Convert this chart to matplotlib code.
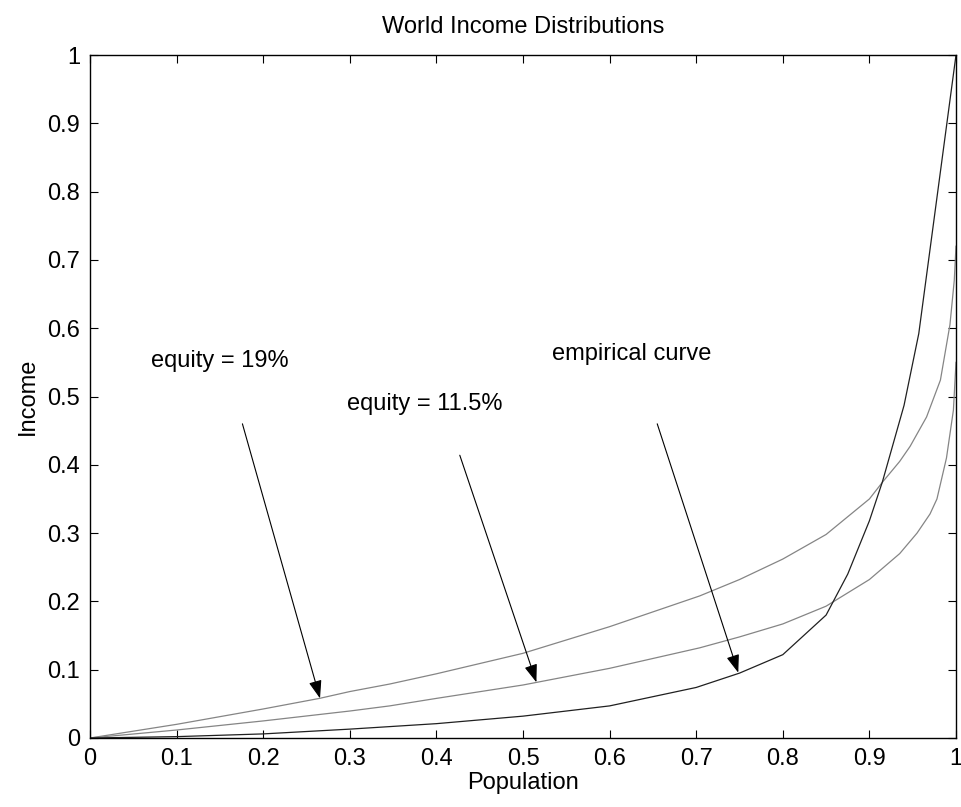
import matplotlib
matplotlib.use("Agg")
import matplotlib.pyplot as plt

# values
emp_x = [0.0, 0.1, 0.2, 0.3, 0.4, 0.5, 0.6, 0.7, 0.75, 0.8, 0.85, 0.875, 0.9, 0.915, 0.94, 0.957, 1.0]
emp_y = [0.0, 0.002, 0.006, 0.013, 0.021, 0.032, 0.047, 0.074, 0.095, 0.122, 0.18, 0.24, 0.318, 0.375, 0.487, 0.592, 1.0]

eq19_x = [0.0, 0.1, 0.2, 0.265, 0.3, 0.346, 0.4, 0.5, 0.6, 0.704, 0.75, 0.8, 0.85, 0.9, 0.916, 0.935, 0.947,
          0.966, 0.982, 0.993, 0.998, 1.0]
eq19_y = [0.0, 0.020, 0.0425, 0.058, 0.068, 0.079, 0.094, 0.124, 0.163, 0.208, 0.232, 0.262, 0.298, 0.350,
          0.376, 0.405, 0.427, 0.47, 0.524, 0.605, 0.67, 0.72]

eq115_x = [0.0, 0.1, 0.2, 0.3, 0.346, 0.4, 0.5, 0.6, 0.704, 0.75, 0.8, 0.85, 0.9, 0.935, 0.955, 0.97, 0.978,
           0.989, 0.997, 1.0]
eq115_y = [0.0, 0.0117, 0.025, 0.0395, 0.047, 0.058, 0.0776, 0.102, 0.132, 0.148, 0.167, 0.193, 0.232,
           0.270, 0.300, 0.328, 0.350, 0.41, 0.48, 0.55]

ticks = [i / 10 for i in range(11)]
tick_labels = ["0", "0.1", "0.2", "0.3", "0.4", "0.5", "0.6", "0.7", "0.8", "0.9", "1"]

# annotation text, text anchor, arrow start, arrow tip
notes = [
    ("equity = 19%", (0.07, 0.552), (0.176, 0.46), (0.2656, 0.058)),
    ("equity = 11.5%", (0.297, 0.489), (0.427, 0.414), (0.5155, 0.0815)),
    ("empirical curve", (0.533, 0.562), (0.655, 0.46), (0.7486, 0.0956)),
]


def main():
    plt.rcParams["font.family"] = ["Liberation Sans", "DejaVu Sans"]

    fig = plt.figure(figsize=(9.62, 8.07), dpi=100)
    ax = fig.add_axes([90 / 962, 69 / 807, 866 / 962, 683 / 807])

    ax.plot(eq19_x, eq19_y, color="#858585", lw=0.9)
    ax.plot(eq115_x, eq115_y, color="#858585", lw=0.9)
    ax.plot(emp_x, emp_y, color="#202020", lw=0.9)

    for label, txt_xy, start, tip in notes:
        ax.text(txt_xy[0], txt_xy[1], label, fontsize=17, ha="left", va="center")
        ax.annotate(
            "",
            xy=tip,
            xytext=start,
            arrowprops=dict(
                arrowstyle="-|>,head_length=0.5,head_width=0.18",
                mutation_scale=22,
                color="black",
                lw=0.8,
                shrinkA=0,
                shrinkB=0,
            ),
        )

    ax.set_xlim(0, 1)
    ax.set_ylim(0, 1)
    ax.set_xticks(ticks)
    ax.set_xticklabels(tick_labels)
    ax.set_yticks(ticks)
    ax.set_yticklabels(tick_labels)
    ax.tick_params(direction="in", length=6, width=0.8, top=True, right=True,
                   labelsize=17, pad=7, colors="black")
    for sp in ax.spines.values():
        sp.set_linewidth(1.0)
        sp.set_color("black")

    ax.set_title("World Income Distributions", fontsize=17, pad=16)
    ax.set_xlabel("Population", fontsize=17, labelpad=2)
    ax.set_ylabel("Income", fontsize=17, labelpad=6)

    fig.savefig("out.png", dpi=100)


if __name__ == "__main__":
    main()
